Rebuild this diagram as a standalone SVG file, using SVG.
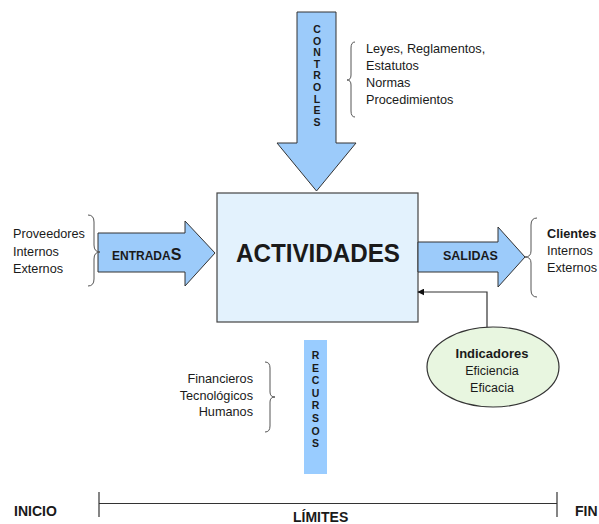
<svg xmlns="http://www.w3.org/2000/svg" width="599" height="524" viewBox="0 0 599 524">
  <defs>
    <style>
      text { font-family: "Liberation Sans", Arial, sans-serif; fill: #1a1a1a; }
      .arrow { fill: #9ccbfa; stroke: #333; stroke-width: 1; }
      .brace { fill: none; stroke: #555; stroke-width: 1; }
      .lbl { font-size: 12.7px; }
      .bold { font-weight: bold; }
      .vert { font-size: 10.5px; font-weight: bold; text-anchor: middle; }
      .limit { font-size: 14px; font-weight: bold; }
      .conn { fill: none; stroke: #333; stroke-width: 1.2; }
    </style>
    <marker id="head" viewBox="0 0 10 10" refX="9" refY="5" markerWidth="7" markerHeight="7" orient="auto" markerUnits="userSpaceOnUse">
      <path d="M0,0 L10,5 L0,10 Z" fill="#111"/>
    </marker>
  </defs>

  <!-- central process box -->
  <g id="actividades">
    <rect x="217" y="193" width="201" height="129" fill="#e3f2fd" stroke="#444" stroke-width="1.2"/>
    <text x="318" y="262" font-size="26" font-weight="bold" text-anchor="middle" textLength="164" lengthAdjust="spacingAndGlyphs">ACTIVIDADES</text>
  </g>

  <!-- controls arrow from the top -->
  <g id="controles">
    <polygon class="arrow" points="297,12 336,12 336,143 356,143 316.5,191 277,143 297,143"/>
    <text class="vert" x="317" y="33">C</text>
    <text class="vert" x="317" y="44.6">O</text>
    <text class="vert" x="317" y="56.2">N</text>
    <text class="vert" x="317" y="67.8">T</text>
    <text class="vert" x="317" y="79.4">R</text>
    <text class="vert" x="317" y="91">O</text>
    <text class="vert" x="317" y="102.6">L</text>
    <text class="vert" x="317" y="114.2">E</text>
    <text class="vert" x="317" y="125.8">S</text>
    <path class="brace" d="M355,42 Q351,42 351,48 L351,75 Q351,80 347,80 Q351,80 351,85 L351,111 Q351,117 355,117"/>
    <text class="lbl" x="366" y="53">Leyes, Reglamentos,</text>
    <text class="lbl" x="366" y="70">Estatutos</text>
    <text class="lbl" x="366" y="87">Normas</text>
    <text class="lbl" x="366" y="104">Procedimientos</text>
  </g>

  <!-- inputs -->
  <g id="entradas">
    <polygon class="arrow" points="98,233 185,233 185,221 215,253 185,286 185,272 98,272"/>
    <text x="112" y="260" class="bold" font-size="12">ENTRADA<tspan font-size="16">S</tspan></text>
    <path class="brace" d="M88,215 Q94,215 94,222 L94,245 Q94,252 100,252 Q94,252 94,259 L94,279 Q94,286 88,286"/>
    <text class="lbl" x="13" y="238">Proveedores</text>
    <text class="lbl" x="13" y="256">Internos</text>
    <text class="lbl" x="13" y="273">Externos</text>
  </g>

  <!-- outputs -->
  <g id="salidas">
    <polygon class="arrow" points="418,242 498,242 498,227 525,257 498,287 498,272 418,272"/>
    <text x="443" y="260" class="bold" font-size="12.5">SALIDAS</text>
    <path class="brace" d="M537,218 Q531,218 531,225 L531,251 Q531,257 525,257 Q531,257 531,263 L531,290 Q531,297 537,297"/>
    <text class="lbl bold" x="547" y="238">Clientes</text>
    <text class="lbl" x="547" y="255">Internos</text>
    <text class="lbl" x="547" y="272">Externos</text>
  </g>

  <!-- resources bar -->
  <g id="recursos">
    <rect x="304" y="340" width="23" height="134" fill="#99ccff"/>
    <text class="vert" font-size="11" x="315.5" y="359">R</text>
    <text class="vert" font-size="11" x="315.5" y="371.6">E</text>
    <text class="vert" font-size="11" x="315.5" y="384.2">C</text>
    <text class="vert" font-size="11" x="315.5" y="396.8">U</text>
    <text class="vert" font-size="11" x="315.5" y="409.4">R</text>
    <text class="vert" font-size="11" x="315.5" y="422">S</text>
    <text class="vert" font-size="11" x="315.5" y="434.6">O</text>
    <text class="vert" font-size="11" x="315.5" y="447.2">S</text>
    <path class="brace" d="M265,362 Q270,362 270,368 L270,392 Q270,397 275,397 Q270,397 270,402 L270,426 Q270,432 265,432"/>
    <text class="lbl" x="253" y="383" text-anchor="end">Financieros</text>
    <text class="lbl" x="253" y="400" text-anchor="end">Tecnológicos</text>
    <text class="lbl" x="253" y="416" text-anchor="end">Humanos</text>
  </g>

  <!-- indicators -->
  <g id="indicadores">
    <ellipse cx="493" cy="367" rx="66" ry="40" fill="#e8f6e0" stroke="#333" stroke-width="1.2"/>
    <text x="492" y="358" font-size="13" font-weight="bold" text-anchor="middle">Indicadores</text>
    <text x="492" y="375" font-size="12.5" text-anchor="middle">Eficiencia</text>
    <text x="492" y="392" font-size="12.5" text-anchor="middle">Eficacia</text>
  </g>

  <!-- feedback connector -->
  <g id="connectors">
    <path class="conn" d="M487,327 L487,292 L418,292" marker-end="url(#head)"/>
  </g>

  <!-- limits scale -->
  <g id="limites">
    <line x1="99" y1="503.5" x2="557" y2="503.5" stroke="#333" stroke-width="1.2"/>
    <line x1="99" y1="492" x2="99" y2="517" stroke="#333" stroke-width="1.2"/>
    <line x1="557" y1="492" x2="557" y2="517" stroke="#333" stroke-width="1.2"/>
    <text class="limit" x="14" y="516">INICIO</text>
    <text class="limit" x="575" y="516">FIN</text>
    <text class="limit" x="293" y="522">LÍMITES</text>
  </g>
</svg>
